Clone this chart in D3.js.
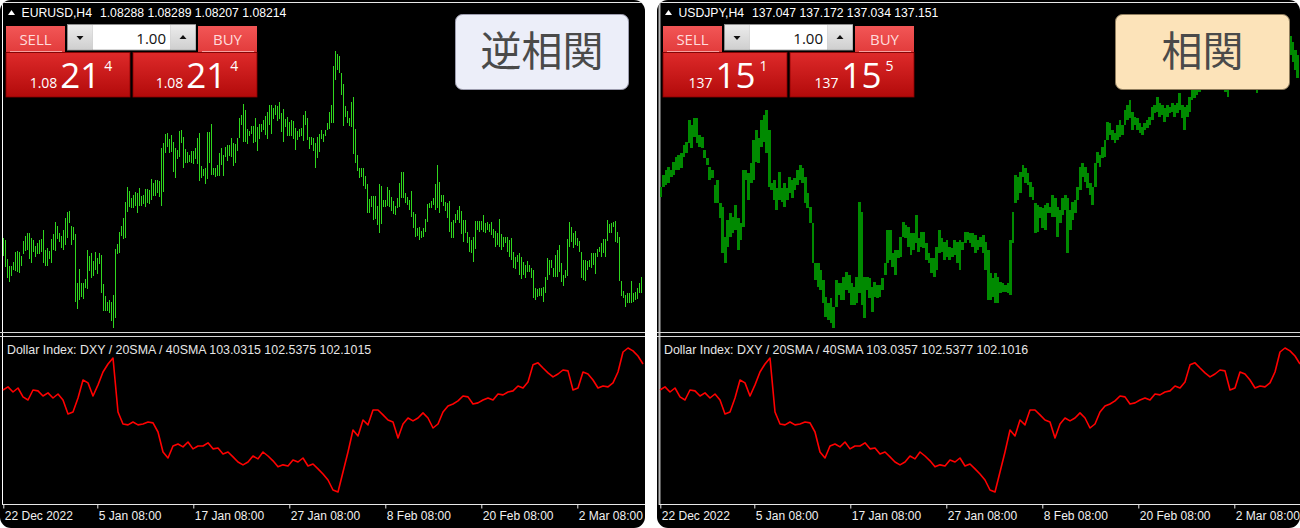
<!DOCTYPE html>
<html><head><meta charset="utf-8">
<script src="https://cdn.jsdelivr.net/npm/d3@7"></script>
<style>
html,body{margin:0;padding:0;background:#fff;}
svg{display:block;}
</style></head><body>
<svg id="c" width="1300" height="528"></svg>
<script>
// ---------- DATA ----------
const eurHigh=[1.0624,1.0620,1.0582,1.0568,1.0568,1.0576,1.0596,1.0598,1.0596,1.0588,
1.0618,1.0628,1.0634,1.0634,1.0624,1.0620,1.0608,1.0614,1.0620,1.0622,
1.0640,1.0600,1.0604,1.0598,1.0622,1.0632,1.0656,1.0648,1.0634,1.0628,
1.0640,1.0664,1.0676,1.0678,1.0648,1.0646,1.0632,1.0534,1.0562,1.0534,
1.0534,1.0542,1.0600,1.0588,1.0594,1.0578,1.0596,1.0584,1.0594,1.0590,
1.0532,1.0508,1.0496,1.0500,1.0496,1.0510,1.0602,1.0612,1.0636,1.0648,
1.0664,1.0696,1.0726,1.0718,1.0704,1.0710,1.0716,1.0714,1.0724,1.0708,
1.0710,1.0722,1.0722,1.0720,1.0742,1.0734,1.0740,1.0740,1.0738,1.0804,
1.0814,1.0832,1.0834,1.0822,1.0830,1.0816,1.0804,1.0800,1.0838,1.0840,
1.0826,1.0802,1.0796,1.0790,1.0798,1.0798,1.0804,1.0824,1.0834,1.0768,
1.0762,1.0764,1.0836,1.0836,1.0852,1.0764,1.0764,1.0770,1.0794,1.0804,
1.0790,1.0806,1.0810,1.0810,1.0824,1.0814,1.0812,1.0824,1.0864,1.0870,
1.0892,1.0880,1.0842,1.0838,1.0848,1.0848,1.0864,1.0846,1.0852,1.0852,
1.0860,1.0868,1.0876,1.0890,1.0890,1.0884,1.0890,1.0888,1.0896,1.0874,
1.0882,1.0862,1.0866,1.0856,1.0860,1.0858,1.0844,1.0838,1.0842,1.0844,
1.0870,1.0878,1.0864,1.0826,1.0826,1.0824,1.0814,1.0826,1.0832,1.0840,
1.0832,1.0840,1.0854,1.0876,
1.0890,1.0968,1.0998,1.0992,1.0988,1.0954,
1.0932,1.0888,1.0878,1.0864,1.0896,1.0906,1.0842,1.0790,1.0764,1.0764,
1.0764,1.0748,1.0732,1.0702,1.0708,1.0708,1.0708,1.0688,1.0732,1.0728,
1.0700,1.0700,1.0726,1.0720,1.0706,1.0698,1.0688,1.0704,1.0734,1.0756,
1.0756,1.0714,1.0706,1.0700,1.0718,1.0676,1.0672,1.0644,1.0646,1.0638,
1.0644,1.0662,1.0692,1.0694,1.0698,1.0704,1.0732,1.0770,1.0736,1.0710,
1.0710,1.0696,1.0694,1.0698,1.0656,1.0660,1.0672,1.0680,1.0688,1.0678,
1.0660,1.0660,1.0636,1.0626,1.0620,1.0626,1.0658,1.0658,1.0658,1.0658,
1.0670,1.0654,1.0656,1.0652,1.0656,1.0642,1.0638,1.0634,1.0662,1.0632,
1.0626,1.0626,1.0626,1.0620,1.0624,1.0596,1.0586,1.0590,1.0594,1.0586,
1.0576,1.0570,1.0578,1.0570,1.0564,1.0560,1.0524,1.0522,1.0524,1.0524,
1.0526,1.0546,1.0584,1.0580,1.0580,1.0564,1.0590,1.0600,1.0610,1.0574,
1.0550,1.0560,1.0622,1.0656,1.0646,1.0634,1.0638,1.0624,1.0618,1.0596,
1.0580,1.0580,1.0578,1.0580,1.0594,1.0594,1.0594,1.0602,1.0606,1.0614,
1.0622,1.0622,1.0660,1.0652,1.0654,1.0656,1.0658,1.0636,1.0626,1.0538,
1.0518,1.0510,1.0514,1.0514,1.0538,1.0514,1.0516,1.0524,1.0534,1.0546];
const eurLow=[1.0588,1.0566,1.0544,1.0536,1.0548,1.0560,1.0558,1.0556,1.0554,1.0568,
1.0592,1.0598,1.0600,1.0582,1.0574,1.0596,1.0586,1.0592,1.0592,1.0596,
1.0574,1.0568,1.0568,1.0582,1.0574,1.0600,1.0598,1.0622,1.0616,1.0604,
1.0600,1.0610,1.0624,1.0654,1.0610,1.0620,1.0496,1.0482,1.0500,1.0506,
1.0502,1.0524,1.0522,1.0558,1.0544,1.0548,1.0560,1.0552,1.0572,1.0514,
1.0478,1.0478,1.0478,1.0474,1.0458,1.0444,1.0464,1.0592,1.0594,1.0628,
1.0622,1.0624,1.0676,1.0686,1.0684,1.0684,1.0688,1.0674,1.0688,1.0688,
1.0692,1.0686,1.0694,1.0692,1.0700,1.0708,1.0708,1.0714,1.0706,1.0688,
1.0716,1.0794,1.0806,1.0794,1.0796,1.0756,1.0744,1.0782,1.0786,1.0814,
1.0764,1.0774,1.0774,1.0776,1.0774,1.0772,1.0782,1.0772,1.0738,1.0744,
1.0748,1.0732,1.0742,1.0774,1.0750,1.0750,1.0746,1.0748,1.0748,1.0770,
1.0748,1.0786,1.0778,1.0788,1.0786,1.0768,1.0774,1.0798,1.0824,1.0850,
1.0816,1.0816,1.0812,1.0828,1.0832,1.0814,1.0816,1.0798,1.0822,1.0836,
1.0840,1.0830,1.0822,1.0850,1.0832,1.0862,1.0870,1.0858,1.0862,1.0836,
1.0816,1.0846,1.0828,1.0828,1.0828,1.0822,1.0800,1.0820,1.0826,1.0828,
1.0818,1.0850,1.0820,1.0802,1.0810,1.0798,1.0764,1.0784,1.0796,1.0822,
1.0816,1.0828,1.0840,1.0842,
1.0854,1.0854,1.0940,1.0960,1.0954,1.0910,
1.0848,1.0866,1.0854,1.0848,1.0846,1.0792,1.0774,1.0758,1.0744,1.0746,
1.0728,1.0722,1.0674,1.0674,1.0686,1.0660,1.0662,1.0650,1.0634,1.0652,
1.0686,1.0686,1.0688,1.0686,1.0678,1.0672,1.0670,1.0684,1.0686,1.0704,
1.0704,1.0694,1.0690,1.0680,1.0666,1.0644,1.0626,1.0628,1.0620,1.0624,
1.0626,1.0636,1.0656,1.0684,1.0684,1.0690,1.0680,1.0684,1.0674,1.0696,
1.0688,1.0678,1.0664,1.0636,1.0624,1.0624,1.0654,1.0660,1.0654,1.0632,
1.0616,1.0634,1.0614,1.0596,1.0594,1.0576,1.0602,1.0640,1.0636,1.0640,
1.0636,1.0634,1.0640,1.0636,1.0630,1.0624,1.0606,1.0610,1.0606,1.0600,
1.0606,1.0614,1.0596,1.0586,1.0580,1.0564,1.0562,1.0576,1.0550,1.0542,
1.0550,1.0544,1.0556,1.0556,1.0544,1.0504,1.0500,1.0506,1.0508,1.0508,
1.0496,1.0514,1.0540,1.0550,1.0564,1.0546,1.0546,1.0546,1.0556,1.0536,
1.0528,1.0544,1.0548,1.0606,1.0616,1.0604,1.0610,1.0608,1.0596,1.0544,
1.0540,1.0538,1.0560,1.0566,1.0564,1.0570,1.0552,1.0586,1.0596,1.0586,
1.0594,1.0586,1.0618,1.0634,1.0634,1.0646,1.0616,1.0614,1.0538,1.0508,
1.0504,1.0486,1.0494,1.0494,1.0494,1.0496,1.0500,1.0502,1.0514,1.0514];

const jpyHigh=[132.52,133.00,133.20,133.32,133.20,133.52,133.72,133.80,133.88,134.20,
134.32,135.20,135.00,135.28,135.28,134.60,134.52,134.00,133.68,133.32,
133.20,132.60,132.80,131.88,131.72,130.52,131.20,131.48,131.32,131.80,
131.28,131.08,133.20,133.20,133.08,133.48,134.40,134.80,134.48,135.20,
135.40,135.60,134.80,132.68,132.80,132.48,133.12,132.48,132.68,132.48,
132.92,132.80,132.88,133.20,133.40,133.28,132.92,132.28,131.72,131.08,
129.48,129.48,129.20,128.80,128.12,127.88,128.08,127.72,128.80,128.68,
128.68,128.92,129.12,129.00,128.68,128.52,128.92,131.92,131.52,128.92,
128.92,128.88,128.52,128.72,128.60,128.60,128.88,129.48,130.80,130.80,
129.88,130.00,130.00,130.52,131.12,131.00,130.92,130.68,130.68,131.40,
130.48,130.72,130.72,130.28,129.88,129.68,129.68,130.12,130.80,130.48,
130.32,130.40,130.12,130.08,130.40,130.32,130.40,130.32,130.72,130.72,
130.68,130.68,130.60,130.40,130.52,130.60,
130.32,130.00,129.08,128.88,
129.08,128.92,128.72,128.68,128.60,128.68,130.40,131.52,133.00,132.92,
133.12,133.40,133.28,133.08,132.72,132.52,131.88,131.80,131.72,131.68,
131.80,131.88,131.72,132.20,132.08,131.72,131.60,132.08,132.20,132.08,
131.60,131.92,132.00,132.52,133.32,133.48,133.32,133.08,132.68,132.52,
133.48,133.92,133.80,134.12,134.40,135.12,135.08,134.80,134.68,135.00,
135.20,135.00,135.60,135.80,136.00,135.52,135.32,135.28,135.08,134.92,
135.08,135.20,135.32,135.72,135.80,136.12,135.88,135.80,135.68,135.80,
135.72,135.88,135.80,135.88,136.28,135.80,135.72,135.80,136.12,136.40,
136.48,136.60,136.80,136.88,137.00,137.12,137.20,137.04,136.96,137.08,
137.20,137.12,136.88,136.80,136.72,136.88,137.04,137.20,137.36,137.44,
137.36,137.20,137.12,137.24,137.12,136.96,136.88,137.04,137.20,137.36,
137.52,137.68,137.80,137.92,138.00,138.08,138.16,138.20,138.32,138.68,
138.56,138.32,138.00,137.80];
const jpyLow=[132.12,132.52,132.60,132.68,132.92,133.00,133.20,133.20,133.28,133.72,
133.88,134.28,134.08,134.52,134.28,134.12,134.08,133.68,133.40,132.80,
132.88,131.88,131.88,131.28,129.88,129.48,130.12,130.52,130.68,130.80,
130.00,130.40,130.92,132.80,132.00,132.68,132.80,133.52,133.48,134.12,
134.32,133.88,132.52,132.40,132.00,131.60,132.00,131.92,131.72,132.00,
132.28,132.08,132.40,132.60,132.80,132.68,131.88,131.68,131.08,129.48,
128.80,128.52,128.40,127.88,127.32,127.20,127.08,126.88,127.72,128.20,
128.00,128.00,128.40,128.28,127.80,127.80,127.88,128.28,127.80,127.28,
128.40,128.08,127.52,128.12,128.08,128.12,128.40,129.00,129.48,129.60,
129.32,129.00,129.68,129.72,130.52,130.48,130.12,129.80,130.00,130.28,
129.92,130.12,130.08,129.60,129.48,129.08,128.92,129.20,129.88,129.92,
129.60,129.72,129.60,129.72,129.80,129.48,129.20,130.00,130.28,130.40,
130.28,130.12,129.88,130.00,130.12,129.88,
129.20,128.00,128.00,128.12,
127.88,127.88,128.28,128.32,128.32,128.28,128.20,130.28,131.88,132.00,
132.28,132.92,132.68,132.60,132.12,132.00,130.68,130.72,131.28,130.88,
130.80,131.48,131.48,131.32,131.32,130.52,131.08,131.40,131.60,129.88,
130.80,131.20,131.48,132.00,132.40,132.92,132.72,132.48,132.20,131.80,
132.52,133.48,133.32,133.68,133.72,134.40,134.60,134.40,134.28,134.40,
134.52,134.60,135.00,135.20,135.28,134.80,135.00,134.80,134.68,134.60,
134.80,134.88,135.00,135.20,135.48,135.52,135.32,135.40,135.12,135.32,
135.48,135.52,135.32,135.48,135.60,135.28,134.80,135.32,135.52,136.00,
136.08,136.20,136.32,136.48,136.56,136.64,136.72,136.60,136.48,136.56,
136.64,136.60,136.44,136.32,136.12,136.44,136.56,136.72,136.88,136.96,
136.80,136.64,136.60,136.72,136.56,136.48,136.28,136.56,136.72,136.88,
137.04,137.20,137.36,137.44,137.52,137.60,137.68,137.76,137.80,138.00,
137.80,137.52,137.20,136.88];

const dxy=[104.35,104.46,104.28,104.42,104.11,104.00,104.35,104.32,104.14,104.25,
104.07,104.21,104.00,103.51,103.58,104.07,104.70,104.60,104.14,104.53,
104.98,105.26,105.47,103.58,103.16,103.13,103.23,103.13,103.16,103.23,
103.20,102.88,102.18,101.97,102.39,102.46,102.36,102.53,102.29,102.39,
102.39,102.50,102.29,102.32,102.11,102.18,102.01,101.83,101.73,101.83,
102.04,101.94,102.18,102.04,101.87,101.66,101.73,101.69,101.90,101.83,
101.97,101.69,101.76,101.59,101.41,101.20,100.85,100.78,101.48,102.18,
102.95,102.74,103.30,103.13,103.65,103.65,103.48,103.30,103.23,102.67,
103.16,103.37,103.27,103.37,103.55,103.37,103.02,103.16,103.58,103.79,
103.86,103.97,104.14,104.11,103.86,103.90,104.00,104.07,104.00,104.21,
104.18,104.28,104.32,104.49,104.42,104.63,105.23,105.30,105.12,104.95,
104.81,104.91,105.05,105.02,104.35,104.42,104.98,104.91,104.70,104.42,
104.49,104.46,104.60,104.98,105.68,105.82,105.72,105.54,105.26];

const barCount=320;
const tickIndex=[0,47,95,143,191,239,287];
const tickLabels=["22 Dec 2022","5 Jan 08:00","17 Jan 08:00","27 Jan 08:00","8 Feb 08:00","20 Feb 08:00","2 Mar 08:00"];

const symbols=["EURUSD,H4","USDJPY,H4"];
const quotes=["1.08288 1.08289 1.08207 1.08214","137.047 137.172 137.034 137.151"];
const sellQuote=[["1.08","21","4"],["137","15","1"]];
const buyQuote=[["1.08","21","4"],["137","15","5"]];
const dxyLabels=["Dollar Index: DXY / 20SMA / 40SMA 103.0315 102.5375 102.1015",
                 "Dollar Index: DXY / 20SMA / 40SMA 103.0357 102.5377 102.1016"];
const tags=["逆相関","相関"];

// ---------- DRAW ----------
const svg=d3.select("#c");
const H=528;
const defs=svg.append("defs");
function grad(id,stops){
  const g=defs.append("linearGradient").attr("id",id).attr("x1",0).attr("y1",0).attr("x2",0).attr("y2",1);
  stops.forEach(s=>g.append("stop").attr("offset",s[0]).attr("stop-color",s[1]));
}
grad("gSmall",[[0,"#f25656"],[1,"#e23c3c"]]);
grad("gBig",[[0,"#de2a2a"],[1,"#b20a0a"]]);
grad("gGray",[[0,"#ececec"],[1,"#cfcfcf"]]);

const panels=[
  {ox:0,w:645,high:eurHigh,low:eurLow,yDom:[1.0440,1.1000],yRng:[330,50],color:"#2fd61e",barW:1,edge:"#ffffff",
   xKnots:null,tagX:455,tagW:173,tagFill:"#eceef9",tagStroke:"#9c9cae"},
  {ox:657,w:643,high:jpyHigh,low:jpyLow,yDom:[127,138],yRng:[325,50],color:"#008a00",barW:0,edge:"#b8b8b8",
   xKnots:[[0,125,209,253],[3.7,326,535,640.5]],tagX:1115,tagW:174,tagFill:"#fce3b9",tagStroke:"#8f7d5e"}
];

const FONT="'Liberation Sans', Arial, sans-serif";
const UIFONT="'Open Sans','Noto Sans',sans-serif";

panels.forEach((p,pi)=>{
  const ox=p.ox;
  defs.append("clipPath").attr("id","clip"+pi)
    .append("rect").attr("x",ox).attr("y",0).attr("width",p.w).attr("height",H).attr("rx",11);
  defs.append("clipPath").attr("id","plot"+pi)
    .append("rect").attr("x",ox+3).attr("y",3).attr("width",p.w-3).attr("height",329);
  const g=svg.append("g").attr("clip-path",`url(#clip${pi})`);
  g.append("rect").attr("x",ox).attr("y",0).attr("width",p.w).attr("height",H).attr("fill","#000");

  // frame lines
  g.append("line").attr("x1",ox).attr("x2",ox+p.w).attr("y1",2.5).attr("y2",2.5).attr("stroke","#e8e8e8");
  g.append("line").attr("x1",ox+2.5).attr("x2",ox+2.5).attr("y1",2).attr("y2",505).attr("stroke",p.edge).attr("stroke-width",pi?2:1);
  g.append("line").attr("x1",ox).attr("x2",ox+p.w).attr("y1",332.5).attr("y2",332.5).attr("stroke","#d8d8d8");
  g.append("line").attr("x1",ox).attr("x2",ox+p.w).attr("y1",336.5).attr("y2",336.5).attr("stroke","#d8d8d8");

  // scales
  const xT=d3.scaleLinear().domain([0,barCount-1]).range([ox+3.3,ox+641.3]);
  const xB=p.xKnots
    ? d3.scaleLinear().domain(p.xKnots[0]).range(p.xKnots[1].map(v=>ox+v))
    : d3.scaleLinear().domain([0,p.high.length-1]).range([ox+3.3,ox+641.3]);
  const yS=d3.scaleLinear().domain(p.yDom).range(p.yRng);

  // price bars
  const bars=g.append("g").attr("clip-path",`url(#plot${pi})`).attr("shape-rendering","crispEdges");
  bars.selectAll("rect").data(p.high).join("rect")
    .attr("x",(d,i)=>{
      if(p.barW) return Math.round(xB(i));
      const a=i>0?(xB(i)+xB(i-1))/2:xB(i)-1.2;
      return a;})
    .attr("width",(d,i)=>{
      if(p.barW) return p.barW;
      const a=i>0?(xB(i)+xB(i-1))/2:xB(i)-1.2;
      const b=i<p.high.length-1?(xB(i)+xB(i+1))/2:xB(i)+1.2;
      return b-a+0.3;})
    .attr("y",d=>yS(d))
    .attr("height",(d,i)=>Math.max(1,yS(p.low[i])-yS(d)))
    .attr("fill",p.color);

  // DXY indicator
  const xD=d3.scaleLinear().domain([0,dxy.length-1]).range([ox+3,ox+643]);
  const yD=d3.scaleLinear().domain([100.5,105.75]).range([500,350]);
  g.append("path").datum(dxy)
    .attr("d",d3.line().x((d,i)=>xD(i)).y(d=>yD(d)))
    .attr("fill","none").attr("stroke","#ff0000").attr("stroke-width",1.6).attr("stroke-linejoin","round");
  g.append("text").attr("x",ox+7).attr("y",353.5).attr("font-family",FONT).attr("font-size",12.4)
    .attr("fill","#e6e6e6").text(dxyLabels[pi]);

  // time axis
  g.append("line").attr("x1",ox+2).attr("x2",ox+p.w).attr("y1",504.5).attr("y2",504.5).attr("stroke","#e8e8e8");
  const ax=d3.axisBottom(xT).tickValues(tickIndex).tickFormat((d,i)=>tickLabels[i]).tickSize(4).tickSizeOuter(0);
  const axG=g.append("g").attr("transform","translate(0,504.5)").call(ax);
  axG.select(".domain").remove();
  axG.selectAll(".tick line").attr("stroke","#e8e8e8");
  axG.selectAll(".tick text").attr("fill","#f0f0f0").attr("font-family",FONT).attr("font-size",12)
    .attr("text-anchor","start").attr("x",1).attr("y",15.5).attr("dy",0);

  // title
  g.append("path").attr("d",`M${ox+8},15L${ox+11.5},10L${ox+15},15Z`).attr("fill","#fff");
  const t=g.append("text").attr("x",ox+21.5).attr("y",17).attr("font-family",FONT).attr("font-size",12.2).attr("fill","#fff");
  t.append("tspan").text(symbols[pi]);
  t.append("tspan").attr("dx",8).text(quotes[pi]);

  // one-click panel
  const u=g.append("g");
  [[6,65,"SELL"],[198,257,"BUY"]].forEach(b=>{
    u.append("rect").attr("x",ox+b[0]).attr("y",26).attr("width",b[1]-b[0]).attr("height",26).attr("fill","url(#gSmall)");
    u.append("line").attr("x1",ox+b[0]+4).attr("x2",ox+b[1]-3).attr("y1",51.5).attr("y2",51.5).attr("stroke","#f7a0a0");
    u.append("text").attr("x",ox+(b[0]+b[1])/2).attr("y",44.5).attr("text-anchor","middle")
      .attr("font-family",UIFONT).attr("font-size",15).attr("fill","#ffdcdc").text(b[2]);
  });
  u.append("rect").attr("x",ox+67.5).attr("y",24.5).attr("width",128).attr("height",25.5).attr("fill","#d0d0d0").attr("stroke","#8e8e8e");
  u.append("rect").attr("x",ox+68).attr("y",25).attr("width",24.5).attr("height",24.5).attr("fill","url(#gGray)");
  u.append("rect").attr("x",ox+170.5).attr("y",25).attr("width",25).attr("height",24.5).attr("fill","url(#gGray)");
  u.append("rect").attr("x",ox+93).attr("y",25).attr("width",77).attr("height",24.5).attr("fill","#fff");
  u.append("path").attr("d",`M${ox+76.5},36L${ox+83.5},36L${ox+80},40Z`).attr("fill","#111");
  u.append("path").attr("d",`M${ox+179.5},39L${ox+186.5},39L${ox+183},35Z`).attr("fill","#111");
  u.append("text").attr("x",ox+166).attr("y",44).attr("text-anchor","end").attr("font-family",UIFONT)
    .attr("font-size",15).attr("fill","#111").text("1.00");
  [[6,130,71,sellQuote[pi]],[133,257,197,buyQuote[pi]]].forEach(b=>{
    u.append("rect").attr("x",ox+b[0]).attr("y",52.5).attr("width",b[1]-b[0]).attr("height",44.5)
      .attr("fill","url(#gBig)").attr("stroke","#8a0000").attr("stroke-width",0.8);
    const tt=u.append("text").attr("x",ox+b[2]).attr("y",87.5).attr("text-anchor","middle")
      .attr("font-family",UIFONT).attr("fill","#fff");
    tt.append("tspan").attr("font-size",14).text(b[3][0]);
    tt.append("tspan").attr("font-size",35).attr("dx",3).text(b[3][1]);
    tt.append("tspan").attr("font-size",14).attr("dx",4).attr("dy",-17).text(b[3][2]);
  });

  // tag box
  g.append("rect").attr("x",p.tagX+0.5).attr("y",14.5).attr("width",p.tagW).attr("height",75).attr("rx",7)
    .attr("fill",p.tagFill).attr("stroke",p.tagStroke).attr("stroke-width",1);
  g.append("text").attr("x",p.tagX+p.tagW/2+0.5).attr("y",66).attr("text-anchor","middle")
    .attr("font-family","'Noto Sans CJK JP','Noto Sans CJK SC',sans-serif").attr("font-size",41)
    .attr("fill","#4a4a4a").text(tags[pi]);
});
</script>
</body></html>
